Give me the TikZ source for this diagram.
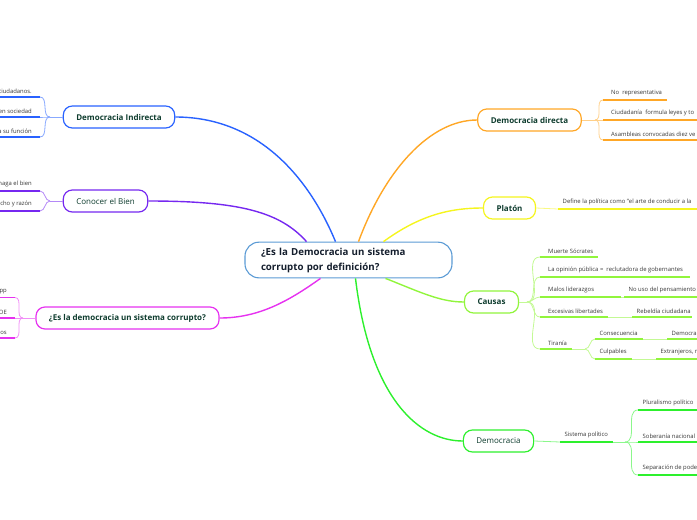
\documentclass[tikz,border=0pt]{standalone}
\usepackage{fontspec}
\setmainfont{Open Sans}
\usetikzlibrary{calc}
\definecolor{mmblue}{RGB}{41, 98, 255}
\definecolor{mmpurple}{RGB}{118, 40, 240}
\definecolor{mmmagenta}{RGB}{230, 50, 240}
\definecolor{mmorange}{RGB}{255, 167, 38}
\definecolor{mmyellow}{RGB}{245, 245, 30}
\definecolor{mmlime}{RGB}{145, 245, 60}
\definecolor{mmgreen}{RGB}{45, 240, 45}
\definecolor{rootline}{RGB}{91, 155, 213}
\definecolor{roottext}{RGB}{20, 30, 45}
\definecolor{topictext}{RGB}{14, 60, 46}
\definecolor{leaftext}{RGB}{55, 55, 55}
\tikzset{>=latex}

\begin{document}
\begin{tikzpicture}[
    x = 1pt, y = -1pt,
    root/.style = {draw = rootline, line width = 1.1, fill = white, rounded corners = 14,
        text width = 175, inner xsep = 16, inner ysep = 5.5, align = left, text = roottext,
        font = \fontsize{9.7}{15}\selectfont\bfseries},
    topic/.style = {draw, line width = 1.2, fill = white, rounded corners = 9, minimum height = 22,
        inner xsep = 13, text = topictext, font = \fontsize{8}{10}\selectfont\bfseries},
    plain/.style = {font = \fontsize{8}{10}\selectfont},
    lf/.style = {inner xsep = 8, inner ysep = 3.6, text = leaftext, font = \fontsize{5.9}{7}\selectfont},
    lf2/.style = {lf, inner xsep = 4.5},
    d0/.style = {line width = 1.4},
    ul/.style = {line width = 1.8},
    br/.style = {line width = 0.8}
]
\useasboundingbox (0,0) rectangle (697,520);
\clip (0,0) rectangle (697,520);

\node[root] (q) at (348.5,260) {¿Es la Democracia un sistema\\corrupto por definición?};

\node[topic, draw = mmblue] (di) at (119,117) {Democracia Indirecta};
\node[topic, plain, draw = mmpurple] (cb) at (105.5,201) {Conocer el Bien};
\node[topic, draw = mmmagenta] (dc) at (127.5,318) {¿Es la democracia un sistema corrupto?};
\node[topic, draw = mmorange] (dd) at (529.5,120) {Democracia directa};
\node[topic, draw = mmyellow] (pl) at (509.5,208) {Platón};
\node[topic, draw = mmlime] (ca) at (491.5,302) {Causas};
\node[topic, plain, draw = mmgreen] (dm) at (498.5,441) {Democracia};

% ramas principales
\draw[d0, mmblue] ([xshift=-13]q.north) .. controls (310,180) and (260,117) .. (di.east);
\draw[d0, mmpurple] ([xshift=-42]q.north) .. controls (280,212) and (240,201) .. (cb.east);
\draw[d0, mmmagenta] ([xshift=-28]q.south) .. controls (290,300) and (260,318) .. (dc.east);
\draw[d0, mmorange] ([xshift=10]q.north) .. controls (385,170) and (430,120) .. (dd.west);
\draw[d0, mmyellow] ([xshift=35]q.north) .. controls (420,215) and (450,208) .. (pl.west);
\draw[d0, mmlime] ([xshift=37]q.south) .. controls (420,292) and (440,302) .. (ca.west);
\draw[d0, mmgreen] ([xshift=7]q.south) .. controls (370,400) and (420,441) .. (dm.west);

% Democracia Indirecta
\coordinate (fdi) at (50,117);
\node[lf, anchor = south east] (di1) at (40,97) {ciudadanos.};
\node[lf, anchor = south east] (di2) at (40,117) {en sociedad};
\node[lf, anchor = south east] (di3) at (40,137) {a su función};
\draw[br, mmblue!55] (di.west) -- (fdi);
\foreach \n in {di1, di2, di3} {
    \draw[br, mmblue!55] (fdi) to[out=180, in=0] (\n.south east);
    \draw[ul, mmblue] (\n.south east) -- ++(-60,0);
}

% Conocer el Bien
\coordinate (fcb) at (50,201);
\node[lf, anchor = south east] (cb1) at (40,191) {naga el bien};
\node[lf, anchor = south east] (cb2) at (40,211) {echo y razón};
\draw[br, mmpurple!55] (cb.west) -- (fcb);
\foreach \n in {cb1, cb2} {
    \draw[br, mmpurple!55] (fcb) to[out=180, in=0] (\n.south east);
    \draw[ul, mmpurple] (\n.south east) -- ++(-60,0);
}

% corrupto?
\coordinate (fdc) at (23,318);
\node[lf, anchor = south east] (dc1) at (15,297.5) {pp};
\node[lf, anchor = south east] (dc2) at (15,318) {OE};
\node[lf, anchor = south east] (dc3) at (15,338) {os};
\draw[br, mmmagenta!55] (dc.west) -- (fdc);
\foreach \n in {dc1, dc2, dc3} {
    \draw[br, mmmagenta!55] (fdc) to[out=180, in=0] (\n.south east);
    \draw[ul, mmmagenta] (\n.south east) -- ++(-60,0);
}

% Democracia directa
\coordinate (fdd) at (595,120);
\node[lf, anchor = south west] (dd1) at (603,100) {No\ \ representativa};
\node[lf, anchor = south west] (dd2) at (603,120) {Ciudadanía\ \ formula leyes y to};
\node[lf, anchor = south west] (dd3) at (603,140) {Asambleas convocadas diez ve};
\draw[br, mmorange!55] (dd.east) -- (fdd);
\foreach \n in {dd1, dd2, dd3}
    \draw[br, mmorange!55] (fdd) to[out=0, in=180] (\n.south west);
\draw[ul, mmorange] (dd1.south west) -- ++(64,0);
\draw[ul, mmorange] (dd2.south west) -- ++(110,0);
\draw[ul, mmorange] (dd3.south west) -- ++(110,0);

% Platon
\node[lf2, anchor = south west] (pl1) at (558,209) {Define la política como "el arte de conducir a la};
\draw[br, mmyellow!55] (pl.east) -- (pl1.south west);
\draw[ul, mmyellow] (pl1.south west) -- ++(150,0);

% Causas
\coordinate (fca) at (527,302);
\node[lf, anchor = south west] (ca1) at (540,257) {Muerte Sócrates};
\node[lf, anchor = south west] (ca2) at (540,277) {La opinión pública =\ \ reclutadora de gobernantes};
\node[lf, anchor = south west] (ca3) at (540,297) {Malos liderazgos};
\node[lf, anchor = south west] (ca4) at (540,317) {Excesivas libertades};
\node[lf, anchor = south west] (ca5) at (540,349) {Tiranía};
\draw[br, mmlime!55] (ca.east) -- (fca);
\foreach \n in {ca1, ca2, ca3, ca4, ca5}
    \draw[br, mmlime!55] (fca) to[out=0, in=180] (\n.south west);
\draw[ul, mmlime] (ca1.south west) -- ++(58,0);
\draw[ul, mmlime] (ca2.south west) -- ++(150,0);
\draw[ul, mmlime] (ca3.south west) -- ++(81,0) coordinate (ca3e);
\draw[ul, mmlime] (ca4.south west) -- ++(68,0) coordinate (ca4e);
\draw[ul, mmlime] (ca5.south west) -- ++(32,0) coordinate (ca5e);

\node[lf2, anchor = south west] (ca31) at (624,297) {No uso del pensamiento};
\node[lf2, anchor = south west] (ca41) at (632,317) {Rebeldía ciudadana};
\draw[br, mmlime!55] (ca3e) -- (ca31.south west);
\draw[br, mmlime!55] (ca4e) -- (ca41.south west);
\draw[ul, mmlime] (ca31.south west) -- ++(80,0);
\draw[ul, mmlime] (ca41.south west) -- ++(60,0);

\coordinate (fti) at (585,349);
\node[lf2, anchor = south west] (ti1) at (595,339) {Consecuencia};
\node[lf2, anchor = south west] (ti2) at (595,359) {Culpables};
\draw[br, mmlime!55] (ca5e) -- (fti);
\foreach \n in {ti1, ti2}
    \draw[br, mmlime!55] (fti) to[out=0, in=180] (\n.south west);
\draw[ul, mmlime] (ti1.south west) -- ++(48,0) coordinate (ti1e);
\draw[ul, mmlime] (ti2.south west) -- ++(37,0) coordinate (ti2e);
\node[lf2, anchor = south west] (ti11) at (667,339) {Democra};
\node[lf2, anchor = south west] (ti21) at (656,359) {Extranjeros, r};
\draw[br, mmlime!55] (ti1e) -- (ti11.south west);
\draw[br, mmlime!55] (ti2e) -- (ti21.south west);
\draw[ul, mmlime] (ti11.south west) -- ++(60,0);
\draw[ul, mmlime] (ti21.south west) -- ++(60,0);

% Democracia
\node[lf2, anchor = south west] (dm1) at (560,442) {Sistema político};
\draw[br, mmgreen!55] (dm.east) -- (dm1.south west);
\draw[ul, mmgreen] (dm1.south west) -- ++(53,0) coordinate (dm1e);
\coordinate (fdm) at (625,442);
\draw[br, mmgreen!55] (dm1e) -- (fdm);
\node[lf2, anchor = south west] (dm11) at (638,410) {Pluralismo político};
\node[lf2, anchor = south west] (dm12) at (638,442) {Soberanía nacional};
\node[lf2, anchor = south west] (dm13) at (638,475) {Separación de pode};
\foreach \n in {dm11, dm12, dm13} {
    \draw[br, mmgreen!55] (fdm) to[out=0, in=180] (\n.south west);
    \draw[ul, mmgreen] (\n.south west) -- ++(70,0);
}

\end{tikzpicture}
\end{document}
